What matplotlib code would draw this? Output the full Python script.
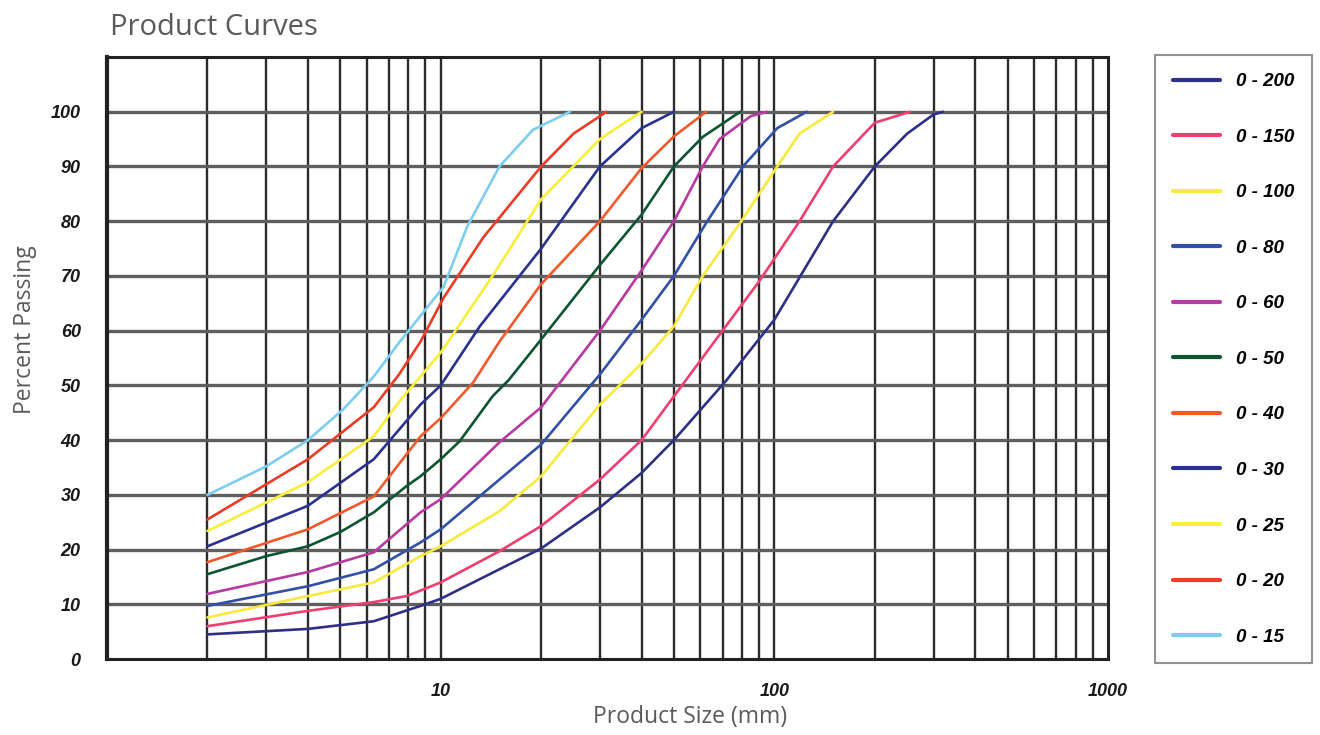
import matplotlib
matplotlib.use("Agg")
import matplotlib.pyplot as plt
from matplotlib.ticker import FixedLocator, NullFormatter

# ---------------- data ----------------
labels = ["0 - 200", "0 - 150", "0 - 100", "0 - 80", "0 - 60", "0 - 50",
          "0 - 40", "0 - 30", "0 - 25", "0 - 20", "0 - 15"]
colors = ["#2e2f86", "#ef3f6e", "#f8ea3c", "#3350a8", "#b8399f", "#0d5530",
          "#f1592a", "#2a3191", "#f9ee3a", "#ec3b26", "#7ccdee"]

x_200 = [2, 4, 6.3, 8.7, 10, 15, 20, 30, 40, 50, 72, 100, 150, 200, 250, 300, 320]
y_200 = [4.5, 5.5, 6.9, 9.7, 11, 16.4, 20.2, 27.7, 34, 40, 51, 62, 80, 90, 96, 99.5, 100]

x_150 = [2, 4, 6.3, 7.9, 8.7, 10, 15, 20, 30, 40, 50, 68, 90, 119, 150, 200, 255]
y_150 = [6, 8.8, 10.4, 11.5, 12.5, 14, 19.7, 24.3, 32.8, 40, 48, 59, 69, 80, 90, 98, 100]

x_100 = [2, 4, 6.3, 8.7, 10, 15, 20, 30, 40, 50, 61, 79, 102, 119, 150]
y_100 = [7.6, 11.5, 14, 18.8, 20.6, 27, 33.4, 46.5, 54, 60.8, 70, 79.7, 90, 96, 100]

x_80 = [2, 4, 6.3, 8.7, 10, 15, 20, 30, 40, 50, 62.5, 80.5, 102, 125]
y_80 = [9.7, 13.3, 16.4, 21.3, 23.7, 32.8, 39.2, 52, 62, 70, 79.7, 90, 97, 100]

x_60 = [2, 4, 6.3, 8.7, 10, 15, 20, 30, 40, 50, 61, 68.5, 85, 95]
y_60 = [11.9, 15.9, 19.5, 26.8, 29.2, 39.6, 46, 60, 71, 80, 90, 95, 99.2, 100]

x_50 = [2, 3, 4, 5, 6.3, 7.9, 8.7, 10, 11.4, 14.3, 16, 20, 30, 40, 50, 61, 79]
y_50 = [15.5, 18.8, 20.6, 23.2, 26.8, 31.6, 33.4, 36.5, 39.8, 48, 51, 58.4, 72, 81.2, 90, 95.4, 100]

x_40 = [2, 4, 6.3, 8.7, 10, 12.5, 15, 20, 30, 40, 50, 62.5]
y_40 = [17.7, 23.7, 29.7, 40.7, 44, 50.5, 58, 68.5, 80, 89.7, 95.5, 100]

x_30 = [2, 4, 6.3, 8.7, 10, 13.1, 20, 30, 40, 50]
y_30 = [20.6, 28, 36.5, 46.5, 50, 60.8, 75, 90, 97, 100]

x_25 = [2, 4, 6.3, 7.5, 10, 14.3, 20, 30, 37.7, 40]
y_25 = [23.4, 32.3, 40.7, 47, 56, 70, 84, 95, 99, 100]

x_20 = [2, 4, 6.3, 7.5, 8.7, 10.2, 13.4, 20, 25, 31.4]
y_20 = [25.5, 36.5, 46, 52, 58, 66, 77, 90, 96, 100]

x_15 = [2, 3, 4, 5.1, 6.3, 7.5, 10.2, 12, 15, 18.9, 24.4]
y_15 = [30, 35.2, 40, 45.6, 51.6, 57.8, 68, 79, 90, 96.7, 100]

series_x = [x_200, x_150, x_100, x_80, x_60, x_50, x_40, x_30, x_25, x_20, x_15]
series_y = [y_200, y_150, y_100, y_80, y_60, y_50, y_40, y_30, y_25, y_20, y_15]

y_ticks = [0, 10, 20, 30, 40, 50, 60, 70, 80, 90, 100]
x_ticks = [10, 100, 1000]
x_minor = [2, 3, 4, 5, 6, 7, 8, 9, 20, 30, 40, 50, 60, 70, 80, 90,
           200, 300, 400, 500, 600, 700, 800, 900]

# ---------------- figure ----------------
fig = plt.figure(figsize=(13.2, 7.35), dpi=100)
ax = fig.add_axes([0.0811, 0.1034, 0.7583, 0.819])
ax.set_xscale("log")
ax.set_xlim(1, 1000)
ax.set_ylim(0, 110)

# grid
for v in x_minor + x_ticks[:-1]:
    ax.axvline(v, color="#2b2b2b", lw=1.7, zorder=1)
for h in y_ticks[1:]:
    ax.axhline(h, color="#5f5f5f", lw=2.4, zorder=1)

lines = []
for xs, ys, c, lab in zip(series_x, series_y, colors, labels):
    ln, = ax.plot(xs, ys, color=c, lw=1.9, label=lab, zorder=3,
                  solid_joinstyle="round", solid_capstyle="round")
    lines.append(ln)

for side in ["left", "right", "top", "bottom"]:
    ax.spines[side].set_color("#222222")
    ax.spines[side].set_linewidth(2.2)
ax.spines["left"].set_linewidth(3.0)

ax.xaxis.set_major_locator(FixedLocator(x_ticks))
ax.xaxis.set_minor_locator(FixedLocator(x_minor))
ax.xaxis.set_minor_formatter(NullFormatter())
ax.set_xticklabels([str(t) for t in x_ticks])
ax.set_yticks(y_ticks)
ax.set_yticklabels([str(t) for t in y_ticks])
ax.tick_params(axis="both", which="both", length=0)
ax.tick_params(axis="x", pad=17)
ax.tick_params(axis="y", pad=19)
for t in ax.get_xticklabels() + ax.get_yticklabels():
    t.set_fontfamily("Liberation Sans")
    t.set_fontweight("bold")
    t.set_fontstyle("italic")
    t.set_fontsize(13)
    t.set_color("#1a1a1a")

fig.text(0.083, 0.963, "Product Curves", fontsize=21, color="#5a5a5a",
         family="Open Sans", ha="left", va="center")
fig.text(0.523, 0.025, "Product Size (mm)", fontsize=16.5, color="#5a5a5a",
         family="Open Sans", ha="center", va="center")
fig.text(0.019, 0.551, "Percent Passing", fontsize=16.5, color="#5a5a5a",
         family="Open Sans", ha="center", va="center", rotation=90)

leg = fig.legend(handles=lines, loc="upper left", bbox_to_anchor=(0.875, 0.925),
                 frameon=True, fancybox=False, edgecolor="#777777",
                 labelspacing=2.05, handlelength=2.5, handletextpad=0.85,
                 borderpad=0.95, borderaxespad=0,
                 prop={"family": "Liberation Sans", "weight": "bold",
                       "style": "italic", "size": 13.5})
leg.get_frame().set_linewidth(1.5)
for h in leg.legend_handles:
    h.set_linewidth(3)

fig.savefig("out.png", dpi=100)
